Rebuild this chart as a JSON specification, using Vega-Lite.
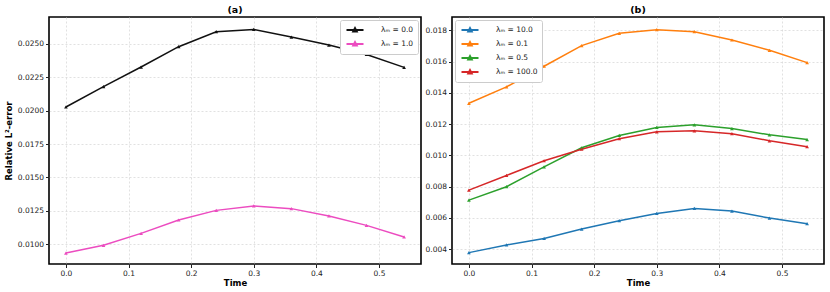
{
  "$schema": "https://vega.github.io/schema/vega-lite/v6.json",
  "padding": {"left": 3, "top": 3, "right": 0, "bottom": 0},
  "background": "white",
  "config": {
    "font": "DejaVu Sans",
    "view": {"stroke": "black", "strokeWidth": 1.6},
    "axis": {
      "labelFont": "DejaVu Sans", "labelFontSize": 7.5, "labelColor": "#222",
      "titleFont": "DejaVu Sans", "titleFontSize": 8.5, "titleFontWeight": "bold", "titleColor": "black",
      "grid": true, "gridColor": "#d4d4d4", "gridDash": [2, 2], "gridWidth": 0.7,
      "domain": false, "tickColor": "#222", "tickSize": 3.5, "labelPadding": 2
    },
    "axisX": {"titlePadding": 1},
    "title": {"font": "DejaVu Sans", "fontSize": 9.5, "fontWeight": "bold", "offset": 3},
    "legend": {
      "labelFont": "DejaVu Sans", "labelFontSize": 7.5, "labelColor": "#222",
      "strokeColor": "#cccccc", "fillColor": "white", "cornerRadius": 2, "padding": 4,
      "symbolType": "M-1.7,0H1.7M0,-0.42L0.38,0.3H-0.38Z", "symbolSize": 100, "symbolStrokeWidth": 1.8,
      "symbolOffset": 5, "labelOffset": 20, "rowPadding": 2, "title": null
    }
  },
  "datasets": {
    "a": [
      {"t": 0.0, "v": 0.02027, "s": "λₘ = 0.0"},
      {"t": 0.06, "v": 0.02179, "s": "λₘ = 0.0"},
      {"t": 0.12, "v": 0.02326, "s": "λₘ = 0.0"},
      {"t": 0.18, "v": 0.02478, "s": "λₘ = 0.0"},
      {"t": 0.24, "v": 0.02590, "s": "λₘ = 0.0"},
      {"t": 0.30, "v": 0.02607, "s": "λₘ = 0.0"},
      {"t": 0.36, "v": 0.02550, "s": "λₘ = 0.0"},
      {"t": 0.42, "v": 0.02490, "s": "λₘ = 0.0"},
      {"t": 0.48, "v": 0.02420, "s": "λₘ = 0.0"},
      {"t": 0.54, "v": 0.02323, "s": "λₘ = 0.0"},
      {"t": 0.0, "v": 0.00935, "s": "λₘ = 1.0"},
      {"t": 0.06, "v": 0.00993, "s": "λₘ = 1.0"},
      {"t": 0.12, "v": 0.01082, "s": "λₘ = 1.0"},
      {"t": 0.18, "v": 0.01182, "s": "λₘ = 1.0"},
      {"t": 0.24, "v": 0.01254, "s": "λₘ = 1.0"},
      {"t": 0.30, "v": 0.01287, "s": "λₘ = 1.0"},
      {"t": 0.36, "v": 0.01267, "s": "λₘ = 1.0"},
      {"t": 0.42, "v": 0.01212, "s": "λₘ = 1.0"},
      {"t": 0.48, "v": 0.01142, "s": "λₘ = 1.0"},
      {"t": 0.54, "v": 0.01055, "s": "λₘ = 1.0"}
    ],
    "b": [
      {"t": 0.0, "v": 0.00377, "s": "λₘ = 10.0"},
      {"t": 0.06, "v": 0.00426, "s": "λₘ = 10.0"},
      {"t": 0.12, "v": 0.00468, "s": "λₘ = 10.0"},
      {"t": 0.18, "v": 0.00528, "s": "λₘ = 10.0"},
      {"t": 0.24, "v": 0.00581, "s": "λₘ = 10.0"},
      {"t": 0.30, "v": 0.00628, "s": "λₘ = 10.0"},
      {"t": 0.36, "v": 0.00660, "s": "λₘ = 10.0"},
      {"t": 0.42, "v": 0.00643, "s": "λₘ = 10.0"},
      {"t": 0.48, "v": 0.00598, "s": "λₘ = 10.0"},
      {"t": 0.54, "v": 0.00562, "s": "λₘ = 10.0"},
      {"t": 0.0, "v": 0.01333, "s": "λₘ = 0.1"},
      {"t": 0.06, "v": 0.01438, "s": "λₘ = 0.1"},
      {"t": 0.12, "v": 0.01570, "s": "λₘ = 0.1"},
      {"t": 0.18, "v": 0.01702, "s": "λₘ = 0.1"},
      {"t": 0.24, "v": 0.01781, "s": "λₘ = 0.1"},
      {"t": 0.30, "v": 0.01804, "s": "λₘ = 0.1"},
      {"t": 0.36, "v": 0.01791, "s": "λₘ = 0.1"},
      {"t": 0.42, "v": 0.01738, "s": "λₘ = 0.1"},
      {"t": 0.48, "v": 0.01672, "s": "λₘ = 0.1"},
      {"t": 0.54, "v": 0.01593, "s": "λₘ = 0.1"},
      {"t": 0.0, "v": 0.00713, "s": "λₘ = 0.5"},
      {"t": 0.06, "v": 0.00799, "s": "λₘ = 0.5"},
      {"t": 0.12, "v": 0.00926, "s": "λₘ = 0.5"},
      {"t": 0.18, "v": 0.01048, "s": "λₘ = 0.5"},
      {"t": 0.24, "v": 0.01127, "s": "λₘ = 0.5"},
      {"t": 0.30, "v": 0.01178, "s": "λₘ = 0.5"},
      {"t": 0.36, "v": 0.01195, "s": "λₘ = 0.5"},
      {"t": 0.42, "v": 0.01171, "s": "λₘ = 0.5"},
      {"t": 0.48, "v": 0.01131, "s": "λₘ = 0.5"},
      {"t": 0.54, "v": 0.01101, "s": "λₘ = 0.5"},
      {"t": 0.0, "v": 0.00777, "s": "λₘ = 100.0"},
      {"t": 0.06, "v": 0.00871, "s": "λₘ = 100.0"},
      {"t": 0.12, "v": 0.00965, "s": "λₘ = 100.0"},
      {"t": 0.18, "v": 0.01039, "s": "λₘ = 100.0"},
      {"t": 0.24, "v": 0.01106, "s": "λₘ = 100.0"},
      {"t": 0.30, "v": 0.01150, "s": "λₘ = 100.0"},
      {"t": 0.36, "v": 0.01157, "s": "λₘ = 100.0"},
      {"t": 0.42, "v": 0.01138, "s": "λₘ = 100.0"},
      {"t": 0.48, "v": 0.01093, "s": "λₘ = 100.0"},
      {"t": 0.54, "v": 0.01055, "s": "λₘ = 100.0"}
    ]
  },
  "hconcat": [
    {
      "title": "(a)",
      "width": 372,
      "height": 247,
      "data": {"name": "a"},
      "encoding": {
        "x": {"field": "t", "type": "quantitative", "title": "Time",
              "scale": {"domain": [-0.027, 0.567], "nice": false, "zero": false},
              "axis": {"values": [0, 0.1, 0.2, 0.3, 0.4, 0.5], "format": ".1f"}},
        "y": {"field": "v", "type": "quantitative", "title": "Relative L²-error",
              "scale": {"domain": [0.00853, 0.0270], "nice": false, "zero": false},
              "axis": {"values": [0.01, 0.0125, 0.015, 0.0175, 0.02, 0.0225, 0.025], "format": ".4f", "titlePadding": 4}},
        "color": {"field": "s", "type": "nominal",
                  "scale": {"domain": ["λₘ = 0.0", "λₘ = 1.0"], "range": ["#111111", "#ec4cc0"]},
                  "legend": {"orient": "top-right", "offset": 3}}
      },
      "layer": [
        {"mark": {"type": "line", "strokeWidth": 1.5}},
        {"mark": {"type": "point", "shape": "triangle-up", "filled": true, "size": 14, "opacity": 1}}
      ]
    },
    {
      "title": "(b)",
      "width": 372,
      "height": 247,
      "data": {"name": "b"},
      "encoding": {
        "x": {"field": "t", "type": "quantitative", "title": "Time",
              "scale": {"domain": [-0.027, 0.567], "nice": false, "zero": false},
              "axis": {"values": [0, 0.1, 0.2, 0.3, 0.4, 0.5], "format": ".1f"}},
        "y": {"field": "v", "type": "quantitative", "title": null,
              "scale": {"domain": [0.003041, 0.018852], "nice": false, "zero": false},
              "axis": {"values": [0.004, 0.006, 0.008, 0.01, 0.012, 0.014, 0.016, 0.018], "format": ".3f"}},
        "color": {"field": "s", "type": "nominal",
                  "scale": {"domain": ["λₘ = 10.0", "λₘ = 0.1", "λₘ = 0.5", "λₘ = 100.0"], "range": ["#1f77b4", "#ff7f0e", "#2ca02c", "#d62728"]},
                  "legend": {"orient": "top-left", "offset": 3}}
      },
      "layer": [
        {"mark": {"type": "line", "strokeWidth": 1.5}},
        {"mark": {"type": "point", "shape": "triangle-up", "filled": true, "size": 14, "opacity": 1}}
      ]
    }
  ],
  "resolve": {"scale": {"color": "independent", "x": "independent", "y": "independent"}},
  "spacing": 2
}
